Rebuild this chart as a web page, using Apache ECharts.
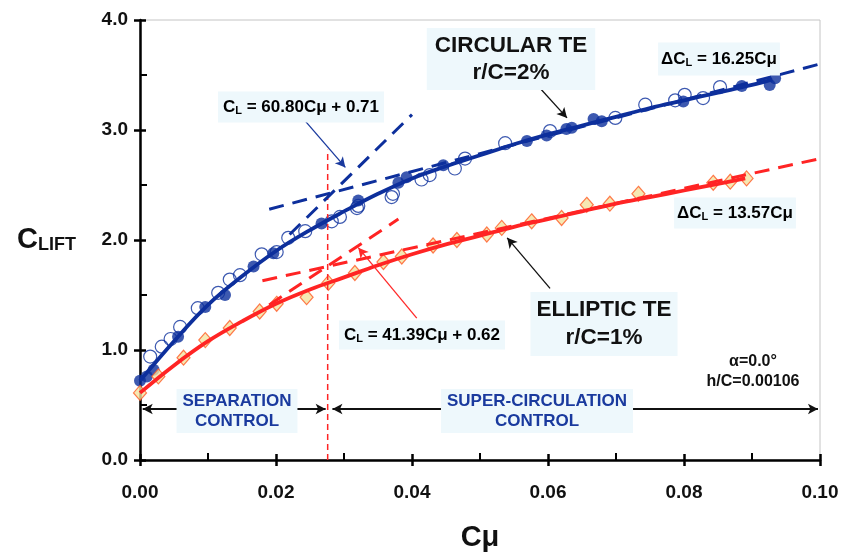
<!DOCTYPE html>
<html><head><meta charset="utf-8">
<script src="https://cdn.jsdelivr.net/npm/echarts/dist/echarts.min.js"></script>
<style>html,body{margin:0;padding:0;background:#fff}#c{width:845px;height:557px}</style>
</head><body><div id="c"></div>
<script>
// ---- data ----
const xTicks = [0, 0.02, 0.04, 0.06, 0.08, 0.10];
const yTicks = [0, 1, 2, 3, 4];
const circularOpen = [[0.0015,0.94],[0.0032,1.03],[0.0045,1.10],[0.0059,1.21],[0.0085,1.38],[0.0115,1.52],[0.0132,1.64],[0.0147,1.68],[0.0179,1.87],[0.0201,1.89],[0.0218,2.02],[0.0243,2.08],[0.0282,2.17],[0.0294,2.21],[0.0319,2.29],[0.0321,2.31],[0.0370,2.39],[0.0372,2.42],[0.0414,2.55],[0.0426,2.59],[0.0463,2.65],[0.0478,2.74],[0.0537,2.88],[0.0603,2.99],[0.0699,3.11],[0.0743,3.23],[0.0787,3.27],[0.0801,3.32],[0.0828,3.29],[0.0853,3.39]];
const circularFilled = [[0,0.72],[0.001,0.76],[0.002,0.82],[0.0056,1.12],[0.0096,1.39],[0.0125,1.50],[0.0167,1.76],[0.0196,1.88],[0.0267,2.15],[0.0321,2.36],[0.0380,2.52],[0.0392,2.57],[0.0446,2.68],[0.0569,2.90],[0.0598,2.95],[0.0627,3.01],[0.0635,3.02],[0.0667,3.10],[0.0679,3.08],[0.0799,3.26],[0.0885,3.40],[0.0926,3.41],[0.0934,3.47]];
const ellipticPts = [[0,0.61],[0.0027,0.76],[0.0064,0.93],[0.0096,1.09],[0.0132,1.20],[0.0176,1.35],[0.0201,1.42],[0.0245,1.48],[0.0277,1.61],[0.0316,1.70],[0.0358,1.80],[0.0385,1.85],[0.0431,1.95],[0.0466,2.00],[0.0510,2.05],[0.0532,2.11],[0.0576,2.17],[0.0620,2.20],[0.0657,2.32],[0.0691,2.33],[0.0733,2.42],[0.0843,2.52],[0.0868,2.53],[0.0892,2.56]];
const circularFit = [[0,0.72],[0.005,1.08],[0.01,1.41],[0.015,1.67],[0.02,1.90],[0.025,2.09],[0.03,2.26],[0.035,2.42],[0.04,2.56],[0.045,2.67],[0.05,2.77],[0.055,2.87],[0.06,2.96],[0.065,3.04],[0.07,3.12],[0.075,3.20],[0.08,3.27],[0.085,3.34],[0.09,3.41],[0.093,3.46]];
const ellipticFit = [[0,0.61],[0.005,0.86],[0.01,1.08],[0.015,1.26],[0.02,1.42],[0.025,1.55],[0.03,1.66],[0.035,1.77],[0.04,1.87],[0.045,1.96],[0.05,2.04],[0.055,2.12],[0.06,2.19],[0.065,2.26],[0.07,2.33],[0.075,2.39],[0.08,2.45],[0.085,2.51],[0.089,2.56]];
const circularSteep = [[0.022,2.05],[0.040,3.14]];     // CL = 60.80Cμ + 0.71
const circularShallow = [[0.019,2.28],[0.100,3.60]];   // ΔCL = 16.25Cμ
const ellipticSteep = [[0.019,1.41],[0.038,2.19]];     // CL = 41.39Cμ + 0.62
const ellipticShallow = [[0.018,1.63],[0.100,2.74]];   // ΔCL = 13.57Cμ
const regimeBoundary = [[0.0276,0],[0.0276,2.82]];
const annotationArrows = [
  {from:[0.0581,3.43], to:[0.0628,3.11], color:'#111', both:false},
  {from:[0.0232,3.16], to:[0.0302,2.66], color:'#1a3a9e', both:false},
  {from:[0.0407,1.29], to:[0.0321,1.93], color:'#ff2a2a', both:false},
  {from:[0.0603,1.56], to:[0.0540,2.02], color:'#111', both:false},
  {from:[0.0004,0.464], to:[0.0273,0.464], color:'#111', both:true},
  {from:[0.0283,0.464], to:[0.0997,0.464], color:'#111', both:true}
];

const BLUE = '#0d2f9c', RED = '#ff2424', TXTBLUE = '#1a3a9e', TXTRED = '#ff2a2a', BOX = '#eef8fc';
const FONT = '"Liberation Sans", Arial, sans-serif';

const chart = echarts.init(document.getElementById('c'));
const gridRect = {left:140, right:25, top:20, bottom:97};

function subRich(color, size) {
  return {
    n:{fontSize:size, fontWeight:'bold', fontFamily:FONT, color:color},
    s:{fontSize:Math.round(size*0.66), fontWeight:'bold', fontFamily:FONT, color:color, padding:[8,0,0,0]}
  };
}
function txt(x, y, text, opts) {
  return {type:'text', x:x, y:y, z:100, style:Object.assign({
    text:text, align:'center', verticalAlign:'middle', fontFamily:FONT, fontWeight:'bold'
  }, opts)};
}

const axisCommon = {
  axisLine:{show:true, onZero:false, lineStyle:{color:'#000', width:2.5}},
  splitLine:{show:false}
};

const option = {
  animation:false,
  backgroundColor:'#fff',
  grid:[
    Object.assign({show:true, borderColor:'#c4c4c4', borderWidth:1, backgroundColor:'transparent', containLabel:false, outerBoundsMode:'none'}, gridRect),
    Object.assign({show:false, containLabel:false, outerBoundsMode:'none'}, gridRect)
  ],
  xAxis:[
    Object.assign({type:'value', gridIndex:0, min:xTicks[0], max:xTicks[xTicks.length-1], interval:0.02,
      name:'Cμ', nameLocation:'middle', nameGap:63,
      nameTextStyle:{fontSize:29, fontWeight:'bold', fontFamily:FONT, color:'#111'},
      axisTick:{show:true, inside:false, length:6, lineStyle:{color:'#000', width:2.5}},
      axisLabel:{show:true, margin:23, fontSize:19, fontWeight:'bold', fontFamily:FONT, color:'#111', showMinLabel:true, showMaxLabel:true, hideOverlap:false, formatter:v=>v.toFixed(2)}
    }, axisCommon),
    {type:'value', gridIndex:1, min:xTicks[0], max:xTicks[xTicks.length-1], interval:0.02,
      axisLine:{show:false}, axisLabel:{show:false}, splitLine:{show:false},
      axisTick:{show:true, inside:true, length:6, lineStyle:{color:'#000', width:2.5}},
      minorTick:{show:true, splitNumber:2, length:7, lineStyle:{color:'#000', width:2}}}
  ],
  yAxis:[
    Object.assign({type:'value', gridIndex:0, min:yTicks[0], max:yTicks[yTicks.length-1], interval:1,
      name:'{c|C}{s|LIFT}', nameLocation:'middle', nameGap:64, nameRotate:0,
      nameTextStyle:{rich:{c:{fontSize:29, fontWeight:'bold', fontFamily:FONT, color:'#111'}, s:{fontSize:18, fontWeight:'bold', fontFamily:FONT, color:'#111', padding:[10,0,0,0]}}},
      axisTick:{show:true, inside:false, length:6, lineStyle:{color:'#000', width:2.5}},
      axisLabel:{show:true, margin:12, fontSize:19, fontWeight:'bold', fontFamily:FONT, color:'#111', showMinLabel:true, showMaxLabel:true, hideOverlap:false, formatter:v=>v.toFixed(1)}
    }, axisCommon),
    {type:'value', gridIndex:1, min:yTicks[0], max:yTicks[yTicks.length-1], interval:1,
      axisLine:{show:false}, axisLabel:{show:false}, splitLine:{show:false},
      axisTick:{show:true, inside:true, length:6, lineStyle:{color:'#000', width:2.5}},
      minorTick:{show:true, splitNumber:2, length:7, lineStyle:{color:'#000', width:2}}}
  ],
  series:[
    {type:'line', data:regimeBoundary, showSymbol:false, symbol:'none', silent:true,
      lineStyle:{color:RED, width:1.5, type:[6,4]}},
    {type:'scatter', name:'Circular open', data:circularOpen, symbol:'circle', symbolSize:13,
      itemStyle:{color:'rgba(255,255,255,0)', borderColor:BLUE, borderWidth:1.2}},
    {type:'scatter', name:'Circular filled', data:circularFilled, symbol:'circle', symbolSize:12,
      itemStyle:{color:BLUE}},
    {type:'scatter', name:'Elliptic', data:ellipticPts, symbol:'diamond', symbolSize:[13,15],
      itemStyle:{color:'#f4e2a0', borderColor:'#ff5a24', borderWidth:1.2}},
    {type:'line', data:circularSteep, symbol:'none', lineStyle:{color:BLUE, width:3, type:[15,9]}},
    {type:'line', data:circularShallow, symbol:'none', lineStyle:{color:BLUE, width:3, type:[15,9]}},
    {type:'line', data:ellipticSteep, symbol:'none', lineStyle:{color:RED, width:3, type:[15,9]}},
    {type:'line', data:ellipticShallow, symbol:'none', lineStyle:{color:RED, width:3, type:[15,9]}},
    {type:'line', data:circularFit, smooth:0.4, symbol:'none', lineStyle:{color:BLUE, width:3.8}},
    {type:'line', data:ellipticFit, smooth:0.4, symbol:'none', lineStyle:{color:RED, width:3.8},
      markLine:{silent:true, animation:false, symbolSize:[8,10], label:{show:false},
        data:annotationArrows.map(a=>[
          {coord:a.from, symbol:a.both?'arrow':'none', lineStyle:{color:a.color, width:a.both?2:1.3, type:'solid'}},
          {coord:a.to, symbol:'arrow'}
        ])}}
  ],
  graphic:[
    txt(511, 59, 'CIRCULAR TE\nr/C=2%', {fontSize:22.5, lineHeight:27, fill:'#111', backgroundColor:BOX, padding:[4,8,4,8]}),
    txt(719, 59, '{n|ΔC}{s|L}{n| = 16.25Cμ}', {rich:subRich(TXTBLUE,17), backgroundColor:BOX, padding:[7,3,7,3]}),
    txt(301, 107, '{n|C}{s|L}{n| = 60.80Cμ + 0.71}', {rich:subRich(TXTBLUE,17), backgroundColor:BOX, padding:[6,5,6,5]}),
    txt(735, 213, '{n|ΔC}{s|L}{n| = 13.57Cμ}', {rich:subRich(TXTRED,17), backgroundColor:BOX, padding:[6,3,6,3]}),
    txt(422, 335, '{n|C}{s|L}{n| = 41.39Cμ + 0.62}', {rich:subRich(TXTRED,17), backgroundColor:BOX, padding:[5,5,5,5]}),
    txt(604, 324, 'ELLIPTIC TE\nr/C=1%', {fontSize:22.5, lineHeight:28, fill:'#111', backgroundColor:BOX, padding:[4,6,4,6]}),
    txt(753, 372, 'α=0.0°\nh/C=0.00106', {fontSize:16, lineHeight:20, fill:'#111'}),
    txt(237, 411, 'SEPARATION\nCONTROL', {fontSize:17, lineHeight:20, fill:TXTBLUE, backgroundColor:BOX, padding:[2,6,2,6]}),
    txt(537, 411, 'SUPER-CIRCULATION\nCONTROL', {fontSize:17, lineHeight:20, fill:TXTBLUE, backgroundColor:BOX, padding:[2,6,2,6]})
  ]
};
chart.setOption(option);
</script>
</body></html>
